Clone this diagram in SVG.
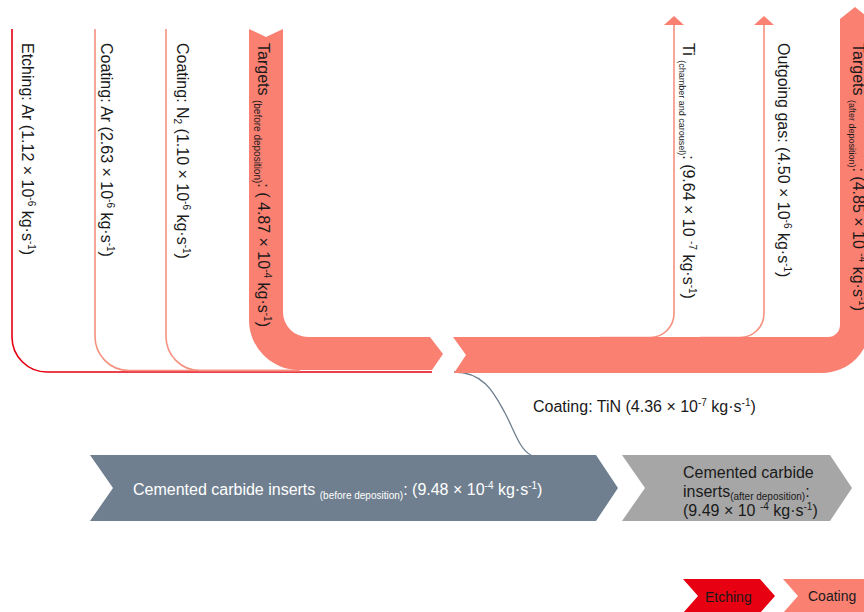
<svg xmlns="http://www.w3.org/2000/svg" width="864" height="612" viewBox="0 0 864 612">
<style>
text{font-family:"Liberation Sans",Arial,sans-serif;font-size:16px;fill:#1a1a1a}
.sm{font-size:10px}
.xs{font-size:9px}
.w{fill:#ffffff}
.lg{font-size:14px}
.salmon{fill:#fa8072}
.line{fill:none;stroke-width:1.6}
.red{stroke:#e60012}
.pink{stroke:#f6907f}
</style>
<rect width="864" height="612" fill="#ffffff"/>
<g id="connectors">
<path class="line red" d="M12,29 V337 A35,35 0 0 0 47,372 H432"/>
<path class="line pink" d="M95,29 V336 A34,34 0 0 0 129,370.5 H300"/>
<path class="line pink" d="M166,29 V336 A34,34 0 0 0 200,370.5 H300"/>
<path class="line pink" d="M600,337.5 H650 A24,24 0 0 0 674,313.5 V24"/>
<polygon class="salmon" points="674,16 684,25 664,25"/>
<path class="line pink" d="M700,337.5 H740 A24,24 0 0 0 764,313.5 V24"/>
<polygon class="salmon" points="764,16 774,25 754,25"/>
<path fill="none" stroke="#6f7f8f" stroke-width="1.3" d="M454,372 C485,372 495,395 505,413 C515,432 520,450 531,455"/>
</g>
<g id="targets-before">
<path class="salmon" d="M249,29 L266,37 L283,29 L283,312 A25,25 0 0 0 308,337 L430,337 L443,354 L432,370 L299,370 A50,50 0 0 1 249,320 Z"/>
<text transform="translate(258,43) rotate(90)">Targets <tspan class="sm" dy="4">(before deposition)</tspan><tspan dy="-4">: ( 4.87 × 10</tspan><tspan class="sm" dy="-6">-4</tspan><tspan dy="6"> kg·s</tspan><tspan class="sm" dy="-6">-1</tspan><tspan dy="6">)</tspan></text>
</g>
<g id="targets-after">
<path class="salmon" d="M453,337 H828 A12,12 0 0 0 840,325 V19 L855,7 L870,19 V325 A48,48 0 0 1 822,373 H454 L466,355 Z"/>
<text transform="translate(853,43) rotate(90)">Targets <tspan class="xs" dy="4">(after deposition)</tspan><tspan dy="-4">: (4.85 × 10 </tspan><tspan class="sm" dy="-6">-4</tspan><tspan dy="6"> kg·s</tspan><tspan class="sm" dy="-6">-1</tspan><tspan dy="6">)</tspan></text>
</g>
<g id="etching-ar">
<text transform="translate(22,43) rotate(90)">Etching: Ar (1.12 × 10<tspan class="sm" dy="-6">-6</tspan><tspan dy="6"> kg·s</tspan><tspan class="sm" dy="-6">-1</tspan><tspan dy="6">)</tspan></text>
</g>
<g id="coating-ar">
<text transform="translate(101,43) rotate(90)">Coating: Ar (2.63 × 10<tspan class="sm" dy="-6">-6</tspan><tspan dy="6"> kg·s</tspan><tspan class="sm" dy="-6">-1</tspan><tspan dy="6">)</tspan></text>
</g>
<g id="coating-n2">
<text transform="translate(177,43) rotate(90)">Coating: N<tspan class="sm" dy="3">2</tspan><tspan dy="-3"> (1.10 × 10</tspan><tspan class="sm" dy="-6">-6</tspan><tspan dy="6"> kg·s</tspan><tspan class="sm" dy="-6">-1</tspan><tspan dy="6">)</tspan></text>
</g>
<g id="ti">
<text transform="translate(683,43) rotate(90)">Ti <tspan class="xs" dy="4">(chamber and carousel)</tspan><tspan dy="-4">:  (9.64 × 10 </tspan><tspan class="sm" dy="-6">-7</tspan><tspan dy="6"> kg·s</tspan><tspan class="sm" dy="-6">-1</tspan><tspan dy="6">)</tspan></text>
</g>
<g id="outgoing-gas">
<text transform="translate(778,43) rotate(90)">Outgoing gas: (4.50 × 10<tspan class="sm" dy="-6">-6</tspan><tspan dy="6"> kg·s</tspan><tspan class="sm" dy="-6">-1</tspan><tspan dy="6">)</tspan></text>
</g>
<g id="coating-tin">
<text x="533" y="412">Coating: TiN (4.36 × 10<tspan class="sm" dy="-6">-7</tspan><tspan dy="6"> kg·s</tspan><tspan class="sm" dy="-6">-1</tspan><tspan dy="6">)</tspan></text>
</g>
<g id="inserts-before">
<polygon fill="#707f8f" points="90,455 596,455 618,488 596,521 90,521 113,488"/>
<text class="w" x="133" y="495">Cemented carbide inserts <tspan class="sm w" dy="4">(before deposition)</tspan><tspan class="w" dy="-4">: (9.48 × 10</tspan><tspan class="sm w" dy="-6">-4</tspan><tspan class="w" dy="6"> kg·s</tspan><tspan class="sm w" dy="-6">-1</tspan><tspan class="w" dy="6">)</tspan></text>
</g>
<g id="inserts-after">
<polygon fill="#a6a6a6" points="622,455 830,455 852,488 830,521 622,521 645,488"/>
<text x="683" y="478">Cemented carbide</text>
<text x="683" y="497">inserts<tspan class="sm" dy="3">(after deposition)</tspan><tspan dy="-3">:</tspan></text>
<text x="683" y="516">(9.49 × 10 <tspan class="sm" dy="-6">-4</tspan><tspan dy="6"> kg·s</tspan><tspan class="sm" dy="-6">-1</tspan><tspan dy="6">)</tspan></text>
</g>
<g id="legend-etching">
<polygon fill="#e60012" points="683,579 760,579 775,596 760,613 683,613 698,596"/>
<text class="lg" x="705" y="602">Etching</text>
</g>
<g id="legend-coating">
<polygon class="salmon" points="783,579 870,579 885,596 870,613 783,613 798,596"/>
<text class="lg" x="808" y="601">Coating</text>
</g>
</svg>
